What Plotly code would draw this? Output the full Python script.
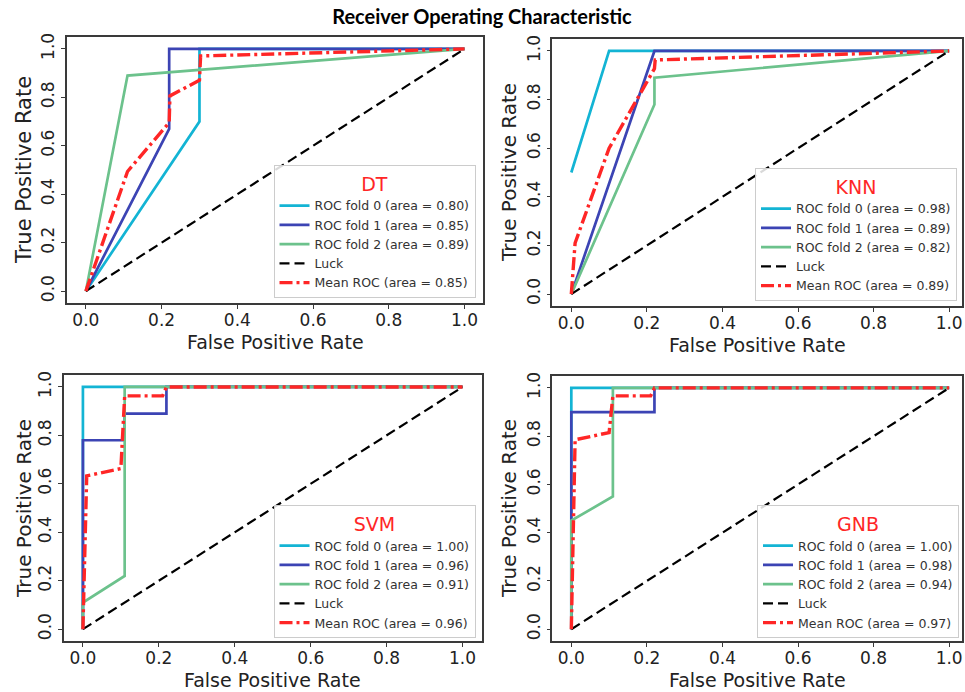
import plotly.graph_objects as go

W, H = 965, 692

MODELS = ["DT", "KNN", "SVM", "GNB"]
FOLD_NAMES = ["ROC fold 0", "ROC fold 1", "ROC fold 2"]
LUCK_NAME = "Luck"
MEAN_NAME = "Mean ROC"
X_TICKS = [0.0, 0.2, 0.4, 0.6, 0.8, 1.0]
Y_TICKS = [0.0, 0.2, 0.4, 0.6, 0.8, 1.0]
LUCK_X = [0, 1]
LUCK_Y = [0, 1]

# ---- DT ----
DT_AUC = [0.80, 0.85, 0.89]
DT_MEAN_AUC = 0.85
DT_FPR = [[0, 0.30, 0.30, 1], [0, 0.22, 0.22, 1], [0, 0.11, 1]]
DT_TPR = [[0, 0.70, 1.0, 1], [0, 0.67, 1.0, 1], [0, 0.89, 1]]
DT_MEAN_FPR = [0, 0.11, 0.22, 0.222, 0.30, 0.303, 1]
DT_MEAN_TPR = [0, 0.494, 0.696, 0.806, 0.871, 0.971, 1]

# ---- KNN ----
KNN_AUC = [0.98, 0.89, 0.82]
KNN_MEAN_AUC = 0.89
KNN_FPR = [[0, 0.10, 1], [0, 0.22, 1], [0, 0.22, 0.22, 1]]
KNN_TPR = [[0.5, 1.0, 1], [0, 1.0, 1], [0, 0.78, 0.89, 1]]
KNN_MEAN_FPR = [0, 0.01, 0.10, 0.22, 0.222, 1]
KNN_MEAN_TPR = [0, 0.21, 0.60, 0.927, 0.963, 1]

# ---- SVM ----
SVM_AUC = [1.00, 0.96, 0.91]
SVM_MEAN_AUC = 0.96
SVM_FPR = [[0, 0, 1], [0, 0, 0.11, 0.11, 0.22, 0.22, 1], [0, 0, 0.11, 0.11, 1]]
SVM_TPR = [[0, 1, 1], [0, 0.78, 0.78, 0.89, 0.89, 1, 1], [0, 0.11, 0.22, 1, 1]]
SVM_MEAN_FPR = [0, 0.01, 0.10, 0.11, 0.21, 0.22, 1]
SVM_MEAN_TPR = [0, 0.633, 0.663, 0.963, 0.963, 1, 1]

# ---- GNB ----
GNB_AUC = [1.00, 0.98, 0.94]
GNB_MEAN_AUC = 0.97
GNB_FPR = [[0, 0, 1], [0, 0, 0.22, 0.22, 1], [0, 0, 0.11, 0.11, 1]]
GNB_TPR = [[0, 1, 1], [0, 0.90, 0.90, 1, 1], [0, 0.45, 0.55, 1, 1]]
GNB_MEAN_FPR = [0, 0.01, 0.10, 0.11, 0.21, 0.22, 1]
GNB_MEAN_TPR = [0, 0.785, 0.815, 0.967, 0.967, 1, 1]

DATA = {
    "DT": (DT_FPR, DT_TPR, DT_AUC, DT_MEAN_FPR, DT_MEAN_TPR, DT_MEAN_AUC),
    "KNN": (KNN_FPR, KNN_TPR, KNN_AUC, KNN_MEAN_FPR, KNN_MEAN_TPR, KNN_MEAN_AUC),
    "SVM": (SVM_FPR, SVM_TPR, SVM_AUC, SVM_MEAN_FPR, SVM_MEAN_TPR, SVM_MEAN_AUC),
    "GNB": (GNB_FPR, GNB_TPR, GNB_AUC, GNB_MEAN_FPR, GNB_MEAN_TPR, GNB_MEAN_AUC),
}

FOLD_COLORS = ["#13b4d4", "#3c44b4", "#6cc28c"]
MEAN_COLOR = "#ff2626"

# pixel frames: (left, right, top, bottom), x-range
FRAMES = {
    "DT": (67, 484, 33, 301, [-0.05, 1.05]),
    "KNN": (553, 963, 35, 304, [-0.05, 1.034]),
    "SVM": (64, 482, 373, 641, [-0.05, 1.05]),
    "GNB": (553, 963, 374, 641, [-0.05, 1.034]),
}
# legend box right/bottom in pixels
LEG_POS = {"DT": (476, 296), "KNN": (958, 299), "SVM": (476, 638), "GNB": (960, 638)}
YTITLE_X = {"DT": 24, "KNN": 509, "SVM": 24, "GNB": 509}
YTITLE_SIZE = {"DT": 21, "KNN": 20, "SVM": 20, "GNB": 20}

FONT = "DejaVu Sans"
fig = go.Figure()
layout = dict(
    width=W, height=H, margin=dict(l=0, r=0, t=0, b=0),
    paper_bgcolor="white", plot_bgcolor="white", showlegend=True,
    title=dict(text="<b>Receiver Operating Characteristic</b>", x=0.5, xanchor="center",
               y=1 - 17 / H, yanchor="middle", xref="paper",
               font=dict(family="Lato", size=20, color="black")),
)
annotations = []

for i, m in enumerate(MODELS):
    n = i + 1
    xa = "x" if n == 1 else f"x{n}"
    ya = "y" if n == 1 else f"y{n}"
    lg = "legend" if n == 1 else f"legend{n}"
    fpr, tpr, auc, mfpr, mtpr, mauc = DATA[m]
    for k in range(3):
        fig.add_trace(go.Scatter(x=fpr[k], y=tpr[k], mode="lines", xaxis=xa, yaxis=ya, legend=lg,
                                 name=f"{FOLD_NAMES[k]} (area = {auc[k]:.2f})",
                                 line=dict(color=FOLD_COLORS[k], width=2.7)))
    fig.add_trace(go.Scatter(x=LUCK_X, y=LUCK_Y, mode="lines", xaxis=xa, yaxis=ya, legend=lg,
                             name=LUCK_NAME, line=dict(color="black", width=2.2, dash="10px,5px")))
    fig.add_trace(go.Scatter(x=mfpr, y=mtpr, mode="lines", xaxis=xa, yaxis=ya, legend=lg,
                             name=f"{MEAN_NAME} (area = {mauc:.2f})",
                             line=dict(color=MEAN_COLOR, width=3.4, dash="13px,4px,3px,4px")))

    l, r, t, b, xr = FRAMES[m]
    axcommon = dict(showline=True, mirror=True, linecolor="#3a3a3a", linewidth=1.5,
                    ticks="outside", ticklen=4, tickwidth=1.2, tickcolor="#3a3a3a",
                    showgrid=False, zeroline=False,
                    tickfont=dict(family=FONT, size=17, color="#222"))
    layout["xaxis" if n == 1 else f"xaxis{n}"] = dict(
        axcommon, domain=[l / W, r / W], range=xr, anchor=ya,
        tickvals=X_TICKS, tickformat=".1f", ticklabelstandoff=-3)
    layout["yaxis" if n == 1 else f"yaxis{n}"] = dict(
        axcommon, domain=[1 - b / H, 1 - t / H], range=[-0.05, 1.05], anchor=xa,
        tickvals=Y_TICKS, tickformat=".1f", tickangle=-90)

    lx, ly = LEG_POS[m]
    layout[lg] = dict(
        x=lx / W, y=1 - ly / H, xanchor="right", yanchor="bottom", xref="paper", yref="paper",
        bgcolor="rgba(255,255,255,0.85)", bordercolor="#cccccc", borderwidth=1,
        font=dict(family=FONT, size=12.5, color="#333"), itemwidth=30, tracegroupgap=0,
        title=dict(text=m, side="top center", font=dict(family=FONT, size=19, color=MEAN_COLOR)),
    )
    annotations.append(dict(text="False Positive Rate", x=(l + r) / 2 / W, y=1 - (b + 39) / H,
                            xref="paper", yref="paper", showarrow=False, xanchor="center",
                            yanchor="middle", font=dict(family=FONT, size=19, color="#222")))
    annotations.append(dict(text="True Positive Rate", x=YTITLE_X[m] / W, y=1 - (t + b) / 2 / H,
                            xref="paper", yref="paper", showarrow=False, xanchor="center",
                            yanchor="middle", textangle=-90,
                            font=dict(family=FONT, size=YTITLE_SIZE[m], color="#222")))

layout["annotations"] = annotations
fig.update_layout(**layout)
fig.write_html("out.html", config={"displayModeBar": False},
               post_script="document.body.style.margin='0px';document.body.style.overflow='hidden';")
